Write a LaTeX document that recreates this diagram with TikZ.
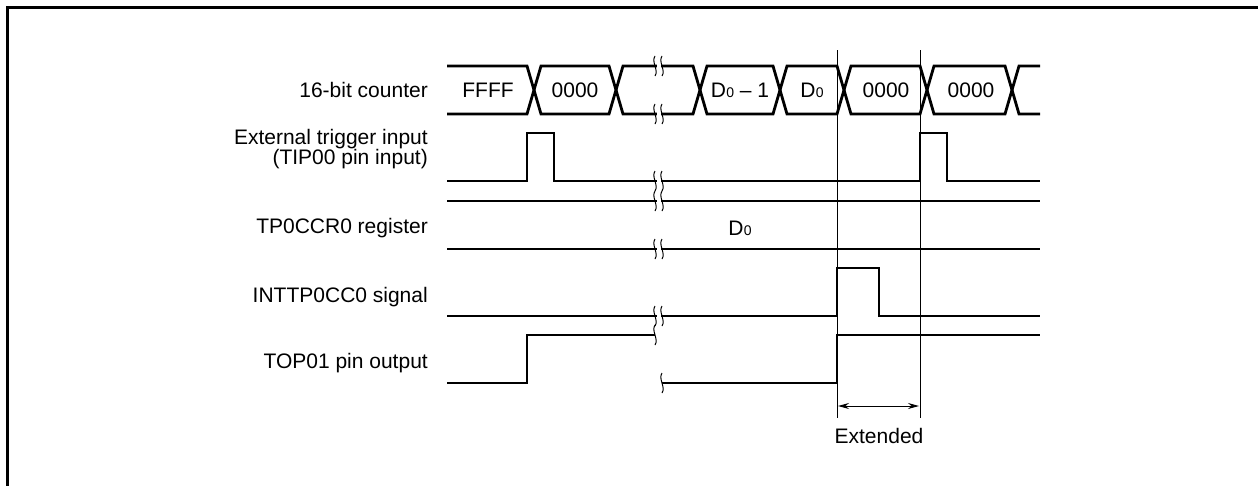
\documentclass[tikz,border=0pt]{standalone}
\usepackage{fontspec}
\setmainfont{Liberation Sans}
\usetikzlibrary{arrows.meta}
\newcommand{\Dsub}{D\kern0.3pt{\fontsize{14}{14}\selectfont 0}}
\newcommand{\brkmark}[2]{\draw[brk] (#1,#2-10) .. controls (#1-4,#2-4) and (#1+4,#2+4) .. (#1,#2+10);}
\begin{document}
\begin{tikzpicture}[x=1pt,y=-1pt,
  sig/.style={line width=2.8pt, line join=miter},
  thinline/.style={line width=1pt},
  brk/.style={line width=1pt},
  lbl/.style={anchor=east, inner sep=0pt, align=right, font=\fontsize{21}{19.5}\selectfont},
  val/.style={inner sep=0pt, font=\fontsize{21}{25}\selectfont},
  frame/.style={line width=3pt}]
\useasboundingbox (0,0) rectangle (1258,485);
% frame (top and left only)
\draw[frame] (7.5,486) -- (7.5,7.5) -- (1259,7.5);

% labels
\node[lbl] (l1) at (428,90) {16-bit counter};
\node[lbl] (l2) at (428,149) {External trigger input\\(TIP00 pin input)};
\node[lbl] (l3) at (428,228) {TP0CCR0 register};
\node[lbl] (l4) at (428,297) {INTTP0CC0 signal};
\node[lbl] (l5) at (428,363) {TOP01 pin output};

% vertical reference lines
\coordinate (v1t) at (837,50); \coordinate (v1b) at (837,418);
\coordinate (v2t) at (920,50); \coordinate (v2b) at (920,418);
\draw[thinline] (v1t) -- (v1b);
\draw[thinline] (v2t) -- (v2b);

% 16-bit counter bus
\draw[sig] (447,66) -- (527,66) -- (541,114) -- (609,114) -- (623,66) -- (693,66) -- (707,114)
  -- (773,114) -- (787,66) -- (837,66) -- (851,114) -- (920,114) -- (934,66) -- (1005,66)
  -- (1019,114) -- (1040,114);
\draw[sig] (447,114) -- (527,114) -- (541,66) -- (609,66) -- (623,114) -- (693,114) -- (707,66)
  -- (773,66) -- (787,114) -- (837,114) -- (851,66) -- (920,66) -- (934,114) -- (1005,114)
  -- (1019,66) -- (1040,66);
\node[val] (c1) at (488,90) {FFFF};
\node[val] (c2) at (575,90) {0000};
\node[val] (c3) at (740,90) {\Dsub\ -- 1};
\node[val] (c4) at (812,90) {\Dsub};
\node[val] (c5) at (886,90) {0000};
\node[val] (c6) at (971,90) {0000};

% external trigger input
\draw[sig] (447,181) -- (527,181) -- (527,133) -- (554,133) -- (554,181) -- (920,181)
  -- (920,133) -- (947,133) -- (947,181) -- (1040,181);

% TP0CCR0 register
\draw[sig] (447,201) -- (1040,201);
\draw[sig] (447,249) -- (1040,249);
\node[val] (r1) at (740,228) {\Dsub};

% INTTP0CC0 signal
\draw[sig] (447,316) -- (837,316) -- (837,268) -- (879,268) -- (879,316) -- (1040,316);

% TOP01 pin output
\draw[sig] (447,383) -- (527,383) -- (527,335) -- (655,335);
\draw[sig] (662,383) -- (837,383) -- (837,335) -- (1040,335);

% break marks
\foreach \y in {66,114,181,201,249,316} {
  \fill[white] (656.5,\y-9) rectangle (660.5,\y+9);
  \brkmark{655}{\y}
  \brkmark{662}{\y}
}
\brkmark{655}{335}
\brkmark{662}{383}

% extended arrow
\coordinate (e1) at (838,406);
\coordinate (e2) at (919,406);
\draw[thinline, {Stealth[length=11pt,width=6pt]}-{Stealth[length=11pt,width=6pt]}] (e1) -- (e2);
\node[val] (ext) at (879,436) {Extended};
\end{tikzpicture}
\end{document}
